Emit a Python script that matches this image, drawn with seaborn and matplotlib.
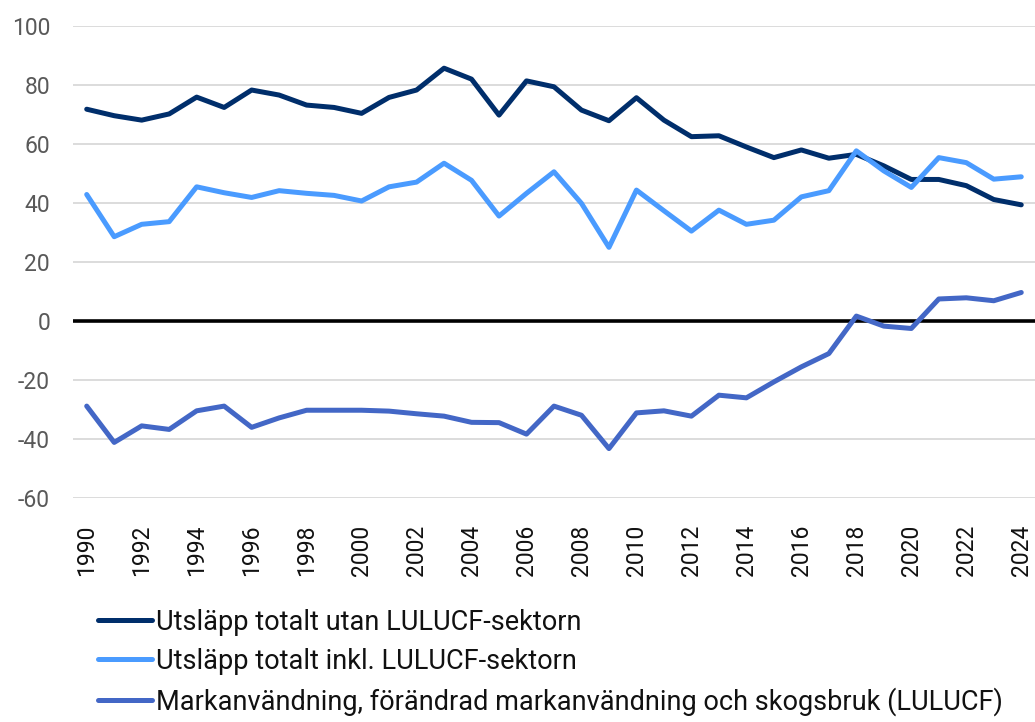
import numpy as np
import pandas as pd
import seaborn as sns
import matplotlib.pyplot as plt

# data
years = list(range(1990, 2025))

utan_lulucf = [71.8, 69.6, 68.1, 70.2, 75.9, 72.4, 78.3, 76.6, 73.2, 72.4,
               70.4, 75.8, 78.3, 85.7, 82.0, 69.8, 81.4, 79.4, 71.5, 67.9,
               75.7, 68.1, 62.5, 62.8, 59.0, 55.4, 58.0, 55.2, 56.5, 52.6,
               48.0, 48.0, 45.9, 41.2, 39.4]

inkl_lulucf = [42.9, 28.6, 32.8, 33.7, 45.5, 43.5, 41.9, 44.2, 43.3, 42.6,
               40.7, 45.5, 47.1, 53.5, 47.7, 35.6, 43.3, 50.6, 39.9, 25.0,
               44.4, 37.4, 30.5, 37.6, 32.8, 34.2, 42.1, 44.2, 57.7, 50.9,
               45.3, 55.4, 53.7, 48.1, 48.9]

lulucf = [-28.8, -41.1, -35.5, -36.7, -30.4, -28.8, -36.0, -32.8, -30.2, -30.2,
          -30.2, -30.5, -31.4, -32.2, -34.3, -34.4, -38.3, -28.8, -31.9, -43.2,
          -31.1, -30.4, -32.2, -25.1, -26.0, -20.6, -15.5, -11.0, 1.7, -1.7,
          -2.5, 7.5, 7.9, 6.9, 9.7]

series_names = [
    "Utsläpp totalt utan LULUCF-sektorn",
    "Utsläpp totalt inkl. LULUCF-sektorn",
    "Markanvändning, förändrad markanvändning och skogsbruk (LULUCF)",
]
colors = ["#002E6B", "#4A9BFF", "#4367C6"]

df = pd.DataFrame({
    "year": years * 3,
    "value": utan_lulucf + inkl_lulucf + lulucf,
    "series": [series_names[0]] * len(years) + [series_names[1]] * len(years)
              + [series_names[2]] * len(years),
})

sns.set_style("white")
plt.rcParams['font.family'] = ['Roboto', 'DejaVu Sans']
plt.rcParams['axes.unicode_minus'] = False

fig = plt.figure(figsize=(10.35, 7.22), dpi=100)
ax = fig.add_axes([0.0705, 0.31, 0.9295, 0.654])

# zero line
ax.axhline(0, color="black", lw=2.6, zorder=1)

sns.lineplot(data=df, x="year", y="value", hue="series",
             palette=dict(zip(series_names, colors)), linewidth=3.6,
             ax=ax, zorder=3)

ax.set_xlim(1989.5, 2024.5)
ax.set_ylim(-60, 100)
ax.set_yticks(np.arange(-60, 101, 20))
ax.set_xticks(years[::2])
ax.set_xticklabels([str(y) for y in years[::2]], rotation=90)
ax.tick_params(axis="both", labelsize=16.5, length=0)
ax.tick_params(axis="y", pad=16.5, labelcolor="#595959")
ax.tick_params(axis="x", pad=19, labelcolor="#111111")
ax.grid(axis="y", color="#D9D9D9", lw=1.3, zorder=0)
ax.set_xlabel("")
ax.set_ylabel("")
sns.despine(ax=ax, left=True, bottom=True)

handles, labels = ax.get_legend_handles_labels()
leg = ax.legend(handles, labels, loc="upper left", bbox_to_anchor=(0.0947, 0.157),
                bbox_transform=fig.transFigure, borderaxespad=0, borderpad=0,
                frameon=False, fontsize=19.5, handlelength=2.0,
                handletextpad=0.15, labelspacing=0.45)
for t in leg.get_texts():
    t.set_color("#111111")

fig.savefig("out.png", dpi=100)
